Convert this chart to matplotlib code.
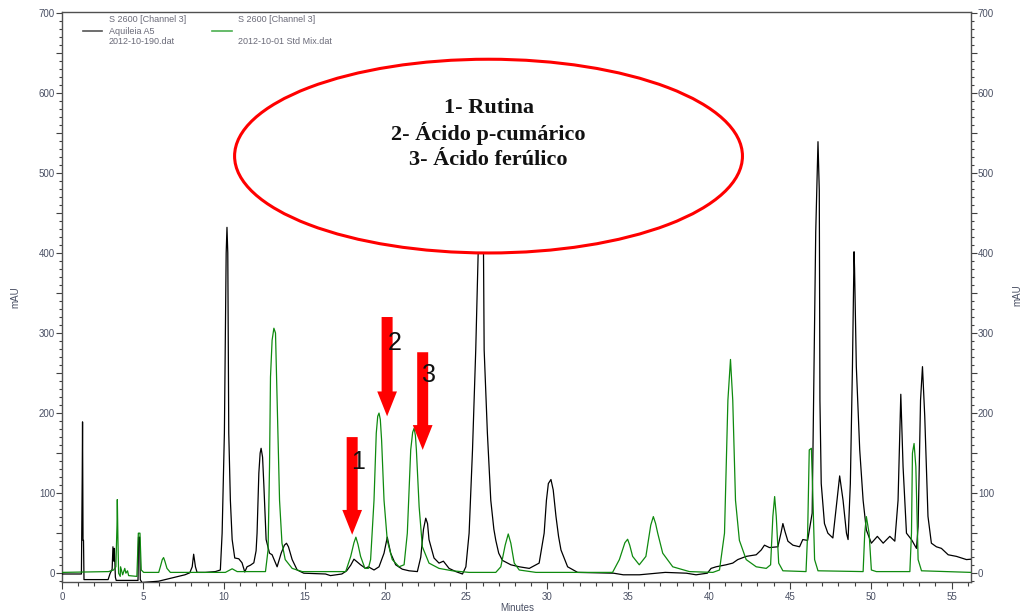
import matplotlib
matplotlib.use("Agg")
import matplotlib.pyplot as plt
from matplotlib.patches import Ellipse, FancyArrow
from matplotlib.lines import Line2D
from matplotlib.ticker import MultipleLocator, FuncFormatter

# chromatogram traces (minutes, mAU)
black_t = [0.0, 1.20, 1.25, 1.27, 1.30, 1.33, 1.36, 2.85, 2.98, 3.10, 3.15, 3.20, 3.24, 3.30, 3.35,
           4.70, 4.73, 4.80, 4.84, 4.94, 5.97, 7.20, 7.60, 7.90, 8.05, 8.14, 8.25, 8.35, 8.86, 9.48,
           9.79, 9.90, 10.04, 10.15, 10.20, 10.25, 10.31, 10.41, 10.52, 10.68, 10.93, 11.13, 11.30,
           11.44, 11.65, 11.86, 12.00, 12.06, 12.17, 12.25, 12.31, 12.40, 12.48, 12.62, 12.83, 12.99,
           13.30, 13.55, 13.75, 13.88, 14.00, 14.23, 14.54, 14.95, 16.29, 16.60, 17.30, 17.60, 17.85,
           18.05, 18.46, 18.77, 18.94, 19.29, 19.60, 19.91, 20.11, 20.32, 20.63, 21.04, 21.46, 21.97,
           22.18, 22.35, 22.49, 22.60, 22.69, 23.00, 23.31, 23.58, 23.93, 24.35, 24.76, 24.97, 25.17,
           25.38, 25.58, 25.73, 25.90, 26.06, 26.10, 26.30, 26.51, 26.70, 26.82, 27.00, 27.23, 27.75,
           28.27, 28.89, 29.50, 29.81, 29.95, 30.07, 30.23, 30.37, 30.54, 30.70, 30.85, 31.26, 31.88,
           34.10, 34.70, 35.70, 37.30, 38.60, 39.20, 39.90, 40.13, 40.44, 41.06, 41.47, 41.78, 42.30,
           42.92, 43.23, 43.43, 43.74, 44.26, 44.45, 44.57, 44.70, 44.88, 45.19, 45.60, 45.80, 46.10,
           46.38, 46.60, 46.74, 46.82, 46.86, 46.94, 47.14, 47.35, 47.66, 47.87, 48.08, 48.29, 48.50,
           48.60, 48.74, 48.87, 48.97, 49.00, 49.11, 49.32, 49.53, 49.73, 50.04, 50.41, 50.77, 51.18,
           51.49, 51.69, 51.86, 52.00, 52.21, 52.52, 52.83, 52.93, 53.08, 53.20, 53.34, 53.54, 53.75,
           54.06, 54.37, 54.79, 55.30, 55.92, 56.20]
black_y = [-1, -1, 120, 189, 41, 41, -8, -8, 0, 5, 33, 15, 31, -5, -9,
           -9, 45, 45, -8, -11.6, -10, -4, -2, 0.5, 8, 23.7, 8, 1, 1, 2,
           4, 50, 175, 400, 432, 400, 175, 91, 42, 19, 18, 13, 1.5,
           8, 10, 13, 28, 50, 125, 150, 156, 145, 110, 42, 25, 23,
           8, 25, 35, 37.4, 33, 17, 4, 0, -1, -3, -1, 3, 10,
           17.5, 10.5, 6, 8, 4, 8, 25, 45, 25, 10.5, 5, 3, 2,
           20, 55, 68.7, 62, 42, 19, 12.6, 15, 6, 2, -1, 8, 50,
           154, 279, 400, 470, 400, 279, 175, 91, 55, 41, 25, 16, 10.5,
           8, 6, 12.6, 50, 91, 112, 117, 104, 71, 46, 29, 8, 1,
           0, -2, -2, 1, 0, -2, 0, 6, 8, 10.5, 12.6, 17, 21,
           23, 29, 35, 32, 33, 50, 62, 52, 40, 35, 33, 42, 41,
           75, 426, 539, 478, 216, 112, 62, 50, 44, 83, 121.5, 91, 50,
           42, 112, 258, 401.5, 381, 258, 154, 91, 54, 37.5, 46, 37.5, 46,
           40, 91, 223.5, 133, 50, 42, 31, 58, 216, 258, 196, 71, 37.5,
           33, 31, 23, 21, 17, 17.5]

green_t = [0.0, 2.88, 3.19, 3.33, 3.40, 3.42, 3.46, 3.50, 3.60, 3.62, 3.75, 3.88, 3.95, 4.05, 4.12,
           4.63, 4.72, 4.82, 4.90, 5.05, 5.98, 6.08, 6.20, 6.28, 6.36, 6.49, 6.70, 10.10, 10.52, 10.83,
           12.58, 12.74, 12.83, 12.89, 12.99, 13.10, 13.20, 13.30, 13.37, 13.45, 13.60, 13.80, 14.23,
           14.85, 17.54, 17.85, 18.05, 18.17, 18.30, 18.46, 18.73, 18.94, 19.08, 19.29, 19.43, 19.52,
           19.60, 19.68, 19.76, 19.91, 20.11, 20.42, 20.84, 21.15, 21.35, 21.56, 21.68, 21.77, 21.85,
           21.91, 22.08, 22.28, 22.69, 23.31, 24.14, 25.17, 26.82, 27.13, 27.40, 27.59, 27.75, 27.96,
           28.27, 29.30, 34.04, 34.46, 34.80, 34.97, 35.10, 35.28, 35.69, 36.10, 36.40, 36.56, 36.70,
           36.83, 37.14, 37.76, 38.79, 40.24, 40.65, 40.96, 41.17, 41.33, 41.47, 41.64, 41.88, 42.30,
           42.92, 43.54, 43.81, 43.95, 44.06, 44.16, 44.31, 44.57, 46.00, 46.10, 46.20, 46.33, 46.43,
           46.53, 46.74, 49.53, 49.63, 49.73, 49.90, 50.04, 50.35, 52.42, 52.52, 52.58, 52.68, 52.79,
           52.93, 53.14, 56.20]
green_y = [1, 2, 4, 8, 60, 92, 40, 0, -4, 8, -2, 6, 0, 3, -3,
           -4, 50, 50, 4, 1, 1, 8, 17, 19.5, 15, 6, 1, 1, 5.5, 2,
           2, 29, 133, 245, 291, 306, 300, 216, 154, 91, 37.5, 17, 6,
           2, 2, 21, 38, 45, 36, 21, 6, 6, 17, 91, 175, 196,
           200, 192, 166, 91, 41, 17, 8, 10.5, 50, 154, 176, 181, 172,
           154, 83, 33, 12.6, 6, 3, 1, 1, 8, 35, 49, 37.5, 12.6,
           4, 1, 1, 17, 38, 42.4, 35, 21, 10.5, 21, 60, 70.7, 62,
           50, 25, 8, 2, 1, 4, 50, 216, 267, 216, 91, 41, 17,
           8, 6, 10.5, 71, 95.7, 71, 12.6, 3, 2, 50, 154, 156, 91,
           17, 3, 2, 50, 70.7, 50, 4, 2, 2, 50, 150, 162, 133,
           17, 3, 1]

# arrows: tip time, tip height, tail height, label
arrow_t = [17.94, 20.10, 22.30]
arrow_tip = [48, 196, 154]
arrow_top = [170, 320, 276]
arrow_labels = ["1", "2", "3"]
label_pos = [(18.31, 139), (20.54, 288), (22.70, 248)]

compounds = ["1- Rutina", "2- Ácido p-cumárico", "3- Ácido ferúlico"]

W, H = 1025, 615
fig = plt.figure(figsize=(W / 100, H / 100), dpi=100)
ax = fig.add_axes([62 / W, 33 / H, (971 - 62) / W, (582 - 12) / H])

ax.plot(black_t, black_y, color="black", lw=0.9, zorder=3)
ax.plot(green_t, green_y, color="#0f8a0f", lw=0.9, zorder=3)

ax.set_xlim(0, 56.2)
ax.set_ylim(-11, 701)

tick_col = "#4a5064"
for s in ax.spines.values():
    s.set_color("#505050")
    s.set_linewidth(1.0)
ax.xaxis.set_major_locator(MultipleLocator(5))
ax.xaxis.set_minor_locator(MultipleLocator(1))
ax.yaxis.set_major_locator(MultipleLocator(50))
ax.yaxis.set_minor_locator(MultipleLocator(10))
ax.yaxis.set_major_formatter(FuncFormatter(lambda v, p: "%d" % v if v % 100 == 0 else ""))
ax.tick_params(axis="both", which="both", direction="out", color="#404040",
               labelcolor=tick_col, labelsize=7, width=0.8)
ax.tick_params(axis="y", which="both", left=True, right=True, labelleft=True, labelright=True, pad=1)
ax.tick_params(axis="y", which="major", length=4)
ax.tick_params(axis="y", which="minor", length=2.5)
ax.tick_params(axis="x", which="major", length=5, pad=2)
ax.tick_params(axis="x", which="minor", length=3)
for lab in ax.get_xticklabels() + ax.get_yticklabels():
    lab.set_family("Liberation Sans")

fig.text(517 / W, 1 - 608 / H, "Minutes", ha="center", va="center", fontsize=7,
         color=tick_col, family="Liberation Sans")
fig.text(15 / W, 1 - 297 / H, "mAU", ha="center", va="center", rotation=90, fontsize=7,
         color=tick_col, family="Liberation Sans")
fig.text(1017 / W, 1 - 295 / H, "mAU", ha="center", va="center", rotation=90, fontsize=7,
         color=tick_col, family="Liberation Sans")

# legend block
leg_col = "#6a6a78"
fig.add_artist(Line2D([83 / W, 102 / W], [1 - 31 / H] * 2, color="#555555", lw=1.2))
fig.add_artist(Line2D([212 / W, 232 / W], [1 - 31 / H] * 2, color="#4caf50", lw=1.2))
for x, y, s in [(109, 20, "S 2600 [Channel 3]"), (109, 31, "Aquileia A5"), (109, 42, "2012-10-190.dat"),
                (238, 20, "S 2600 [Channel 3]"), (238, 42, "2012-10-01 Std Mix.dat")]:
    fig.text(x / W, 1 - y / H, s, ha="left", va="center", fontsize=6.5, color=leg_col,
             family="Liberation Sans")

# ellipse with compound names
ax.add_patch(Ellipse((26.37, 521), 31.4, 242, facecolor="white", edgecolor="red", lw=2.2, zorder=5))
for s, y in zip(compounds, [581, 549.5, 516]):
    ax.text(26.37, y, s, ha="center", va="center", fontsize=16, fontweight="bold",
            family="Liberation Serif", color="#111111", zorder=6)

# red arrows
for t, tip, top, lab, (lx, ly) in zip(arrow_t, arrow_tip, arrow_top, arrow_labels, label_pos):
    ax.add_patch(FancyArrow(t, top, 0, tip - top, width=0.68, head_width=1.22, head_length=31,
                            length_includes_head=True, color="red", lw=0, zorder=4))
    ax.text(lx, ly, lab, ha="center", va="center", fontsize=18, family="Liberation Sans",
            color="#111111", zorder=6)

fig.savefig("out.png", dpi=100)
